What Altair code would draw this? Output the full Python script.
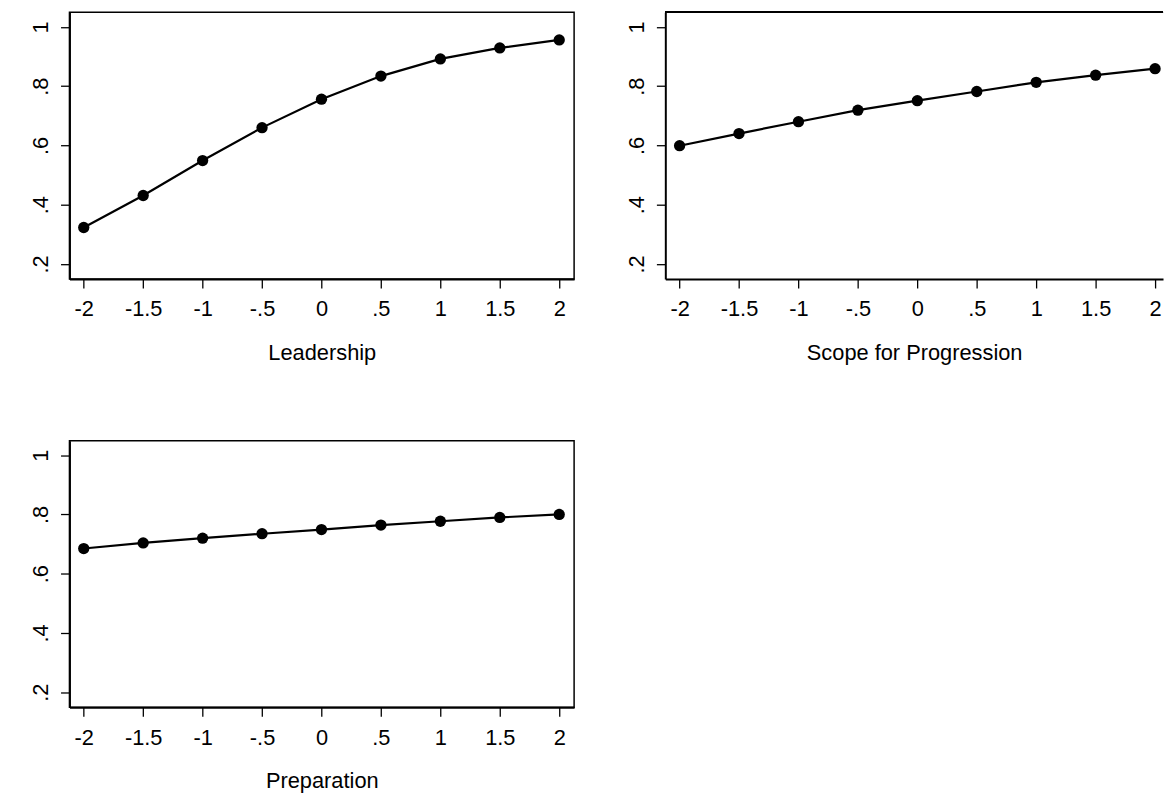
import altair as alt
import pandas as pd

# ---- data ----
x_vals = [-2, -1.5, -1, -0.5, 0, 0.5, 1, 1.5, 2]
leadership = [0.323, 0.431, 0.549, 0.660, 0.756, 0.834, 0.892, 0.929, 0.956]
scope = [0.599, 0.640, 0.680, 0.719, 0.751, 0.782, 0.813, 0.837, 0.859]
preparation = [0.685, 0.704, 0.720, 0.735, 0.749, 0.764, 0.777, 0.790, 0.800]
titles = ["Leadership", "Scope for Progression", "Preparation"]
x_ticks = [-2, -1.5, -1, -0.5, 0, 0.5, 1, 1.5, 2]
y_ticks = [0.2, 0.4, 0.6, 0.8, 1]

FONT = "Liberation Sans"
FS = 22
PX_PER_UNIT = 119.9
X_MIN = -2.12
Y_DOMAIN = [0.149, 1.049]
H = 269

stata_num = "(datum.value < 0 ? '-' : '') + replace(format(abs(datum.value), '~g'), /^0\\./, '.')"


def panel(values, title, width, frame=True):
    df = pd.DataFrame({"x": x_vals, "y": values})
    xmax = X_MIN + width / PX_PER_UNIT
    xscale = alt.Scale(domain=[X_MIN, xmax], nice=False, zero=False)
    yscale = alt.Scale(domain=Y_DOMAIN, nice=False, zero=False)
    xaxis = alt.Axis(values=x_ticks, labelExpr=stata_num, grid=False,
                     tickSize=9, tickWidth=1.3, tickColor="black",
                     domainColor="black", domainWidth=2,
                     labelFont=FONT, labelFontSize=FS, labelColor="black",
                     labelPadding=11, labelBaseline="top", labelAngle=0,
                     labelFlush=False, labelOverlap=False,
                     titleFont=FONT, titleFontSize=FS, titleFontWeight="normal",
                     titleColor="black", titlePadding=23)
    yaxis = alt.Axis(values=y_ticks, labelExpr=stata_num, grid=False, title=None,
                     tickSize=9, tickWidth=1.3, tickColor="black",
                     domainColor="black", domainWidth=2,
                     labelFont=FONT, labelFontSize=FS, labelColor="black",
                     labelAngle=270, labelAlign="center", labelBaseline="bottom",
                     labelPadding=8, labelFlush=False, labelOverlap=False)
    base = alt.Chart(df).encode(
        x=alt.X("x:Q", scale=xscale, axis=xaxis, title=title),
        y=alt.Y("y:Q", scale=yscale, axis=yaxis),
    )
    line = base.mark_line(color="black", strokeWidth=2.2)
    pts = base.mark_point(filled=True, size=130, color="black", opacity=1)
    layers = [line, pts]
    if not frame:
        # top border of the plot region (right side runs off the page)
        top = alt.Chart(df).mark_rule(color="black", strokeWidth=1.5).encode(
            x=alt.value(0), x2=alt.value(width), y=alt.value(0))
        layers = [line, pts, top]
    ch = alt.layer(*layers).properties(width=width, height=H)
    if not frame:
        ch = ch.properties(view=alt.ViewBackground(stroke="transparent"))
    return ch


p1 = panel(leadership, titles[0], 509)
p2 = panel(scope, titles[1], 502, frame=False)
p3 = panel(preparation, titles[2], 509)

chart = alt.concat(p1, p2, p3, columns=2, spacing={"row": 163, "column": 92},
                   bounds="flush").properties(
    padding={"left": 21, "top": -1, "right": 0, "bottom": 0},
    background="white",
).configure_view(stroke="black", strokeWidth=1.5)

chart.save("out.html", embed_options={"renderer": "svg", "actions": False})
